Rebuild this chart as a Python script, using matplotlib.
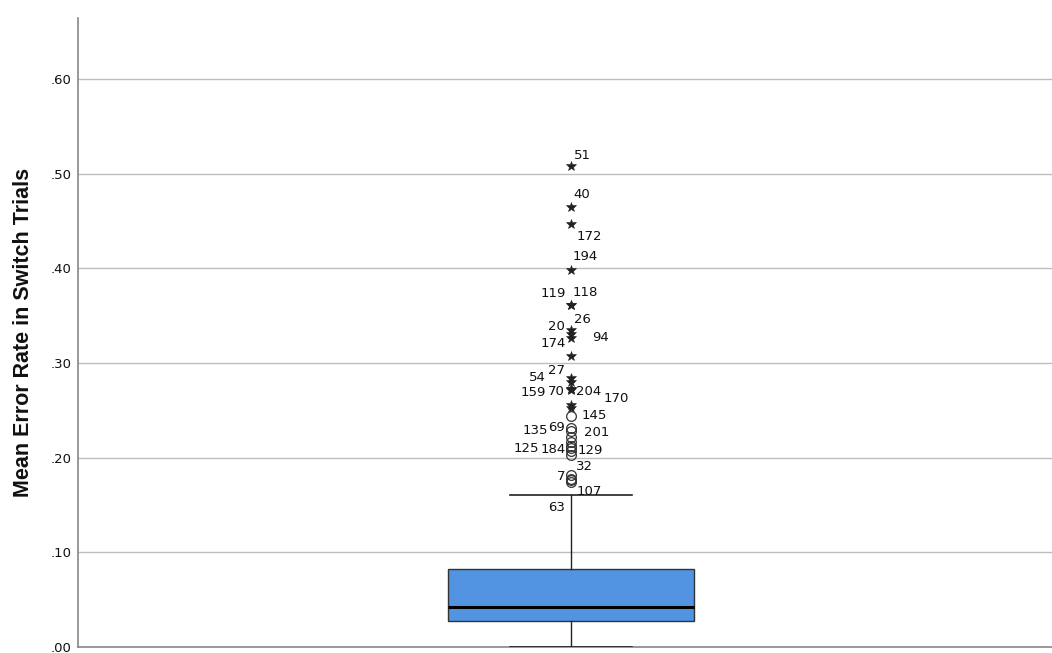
import matplotlib
matplotlib.use("Agg")
import matplotlib.pyplot as plt
import numpy as np

# ---- data ----
q1 = 0.0275
median = 0.0423
q3 = 0.0824
whisker_low = 0.0
whisker_high = 0.1606

outlier_values = [0.508, 0.465, 0.447, 0.398, 0.361, 0.361, 0.335, 0.331, 0.326,
                  0.307, 0.284, 0.280, 0.273, 0.273, 0.271, 0.256, 0.252, 0.244,
                  0.231, 0.228, 0.222, 0.217, 0.212, 0.210, 0.207, 0.203,
                  0.182, 0.178, 0.176, 0.174]

label_texts = ["51", "40", "172", "194", "118", "119", "26", "20", "94", "174",
               "27", "54", "70", "159", "204", "170", "145", "69", "135", "201",
               "184", "125", "129", "32", "7", "107", "63"]
label_values = [0.508, 0.465, 0.447, 0.398, 0.361, 0.361, 0.335, 0.331, 0.326, 0.307,
                0.284, 0.284, 0.273, 0.273, 0.273, 0.273, 0.244, 0.231, 0.231, 0.222,
                0.210, 0.210, 0.210, 0.182, 0.178, 0.174, 0.174]
# label offsets in pixels (dx right, dy up)
label_offsets = [(12, 11), (11, 12), (18, -13), (14, 14), (14, 13), (-18, 12),
                 (12, 10), (-14, 7), (30, 1), (-18, 13), (-14, 8), (-33, 1),
                 (-15, -3), (-38, -4), (18, -3), (45, -10), (23, 1), (-14, 1),
                 (-36, -2), (26, 4), (-18, -1), (-45, 0), (19, -2), (14, 8),
                 (-10, 2), (18, -9), (-14, -25)]

y_ticks = [0.0, 0.1, 0.2, 0.3, 0.4, 0.5, 0.6]
y_tick_labels = [".00", ".10", ".20", ".30", ".40", ".50", ".60"]
y_label = "Mean Error Rate in Switch Trials"

# ---- figure ----
fig = plt.figure(figsize=(10.52, 6.53), dpi=100)
ax = fig.add_axes([78 / 1052, 1 - 647 / 653, 1 - 78 / 1052, (647 - 18) / 653])
ax.set_xlim(0, 1)
ax.set_ylim(0, 0.6645)

pos = 0.506
stats = [dict(med=median, q1=q1, q3=q3, whislo=whisker_low, whishi=whisker_high, fliers=[])]
ax.bxp(stats, positions=[pos], widths=0.2526, capwidths=0.125, patch_artist=True,
       showfliers=False,
       boxprops=dict(facecolor="#5294e2", edgecolor="#333333", linewidth=1.0),
       medianprops=dict(color="black", linewidth=2.2),
       whiskerprops=dict(color="#222222", linewidth=1.0),
       capprops=dict(color="#222222", linewidth=1.2),
       zorder=3)

iqr = q3 - q1
extreme_limit = q3 + 3 * iqr
vals = np.array(outlier_values)
ext = vals[vals > extreme_limit]
mild = vals[vals <= extreme_limit]
ax.plot([pos] * len(ext), ext, linestyle="none", marker="*", markersize=7,
        color="#222222", markeredgewidth=0.4, zorder=4)
ax.plot([pos] * len(mild), mild, linestyle="none", marker="o", markersize=7,
        markerfacecolor="none", markeredgecolor="#333333", markeredgewidth=0.9, zorder=4)

for t, v, (dx, dy) in zip(label_texts, label_values, label_offsets):
    ax.annotate(t, xy=(pos, v), xytext=(dx * 0.72, dy * 0.72), textcoords="offset points",
                ha="center", va="center", fontsize=9.5, color="#111111",
                family="DejaVu Sans", zorder=5)

ax.set_yticks(y_ticks)
ax.set_yticklabels(y_tick_labels, fontsize=9.5, color="#111111", family="DejaVu Sans")
ax.tick_params(axis="y", length=0, pad=4.5)
ax.set_xticks([])
ax.yaxis.grid(True, color="#bdbdbd", linewidth=1.0)
ax.set_axisbelow(True)
for s in ["top", "right"]:
    ax.spines[s].set_visible(False)
ax.spines["left"].set_color("#888888")
ax.spines["bottom"].set_color("#888888")
ax.spines["left"].set_linewidth(1.2)
ax.spines["bottom"].set_linewidth(1.2)

ax.set_ylabel(y_label, fontsize=15.5, fontweight="bold", family="Liberation Sans",
              labelpad=12, color="#111111")

fig.savefig("out.png", dpi=100)
